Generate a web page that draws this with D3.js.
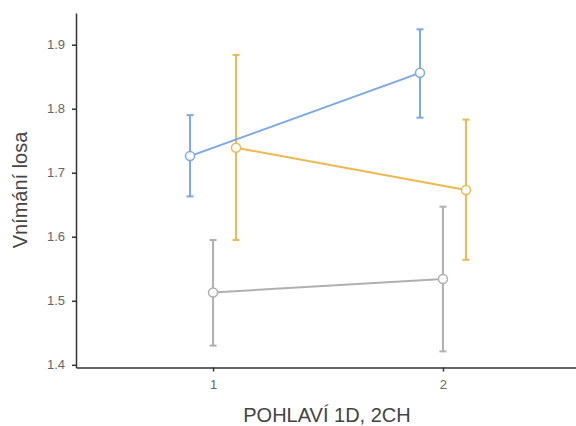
<!DOCTYPE html>
<html>
<head>
<meta charset="utf-8">
<script src="https://cdn.jsdelivr.net/npm/d3@7"></script>
<style>
  body { margin: 0; background: #fff; }
  text { font-family: "Liberation Sans", Arial, sans-serif; }
</style>
</head>
<body>
<svg id="chart" width="576" height="426"></svg>
<script>
// categories on the x axis
const categories = ["1", "2"];
const groups = ["blue", "gray", "orange"];
const groupColors = { blue: "#7ca7e8", gray: "#b0b0b0", orange: "#efb84e" };
const groupOffsets = { blue: -1, gray: 0, orange: 1 };

// means and error bar limits per group, one value per category
const blueMean = [1.726, 1.856];
const blueLow = [1.663, 1.786];
const blueHigh = [1.790, 1.924];
const grayMean = [1.513, 1.534];
const grayLow = [1.430, 1.421];
const grayHigh = [1.595, 1.647];
const orangeMean = [1.739, 1.673];
const orangeLow = [1.595, 1.564];
const orangeHigh = [1.884, 1.783];

const yTicks = [1.4, 1.5, 1.6, 1.7, 1.8, 1.9];

const seriesData = {
    blue: { mean: blueMean, low: blueLow, high: blueHigh },
    gray: { mean: grayMean, low: grayLow, high: grayHigh },
    orange: { mean: orangeMean, low: orangeLow, high: orangeHigh }
};

const svg = d3.select("#chart");
const plotLeft = 76, plotRight = 580, plotTop = 13, plotBottom = 367.5;

const x = d3.scalePoint().domain(categories).range([plotLeft, plotRight]).padding(0.596);
const y = d3.scaleLinear().domain([1.3958, 1.9495]).range([plotBottom, plotTop]);
const dodge = x.step() * 0.1;

// axes
const yAxis = svg.append("g")
    .attr("transform", `translate(${plotLeft},0)`)
    .call(d3.axisLeft(y).tickValues(yTicks).tickFormat(d3.format(".1f")).tickSize(4).tickPadding(7).tickSizeOuter(0));
const xAxis = svg.append("g")
    .attr("transform", `translate(0,${plotBottom})`)
    .call(d3.axisBottom(x).tickSize(4).tickPadding(8).tickSizeOuter(0));

[yAxis, xAxis].forEach(ax => {
    ax.select(".domain").attr("stroke", "#333").attr("stroke-width", 1.5);
    ax.selectAll(".tick line").attr("stroke", "#333").attr("stroke-width", 1.5);
    ax.selectAll(".tick text").attr("fill", "#666").style("font-size", "13px")
        .style("font-family", "Liberation Sans, Arial, sans-serif");
});

// axis titles
svg.append("text")
    .attr("transform", `translate(27,190) rotate(-90)`)
    .attr("text-anchor", "middle")
    .attr("fill", "#444")
    .style("font-size", "20px")
    .text("Vnímání losa");

svg.append("text")
    .attr("x", 327)
    .attr("y", 422)
    .attr("text-anchor", "middle")
    .attr("fill", "#444")
    .style("font-size", "20px")
    .text("POHLAVÍ 1D, 2CH");

const px = (g, i) => x(categories[i]) + groupOffsets[g] * dodge;

// draw order: gray, orange, blue on top
["gray", "orange", "blue"].forEach(g => {
    const s = seriesData[g];
    const color = groupColors[g];
    const layer = svg.append("g");

    const pts = categories.map((c, i) => ({ i: i, mean: s.mean[i], low: s.low[i], high: s.high[i] }));

    // error bars
    pts.forEach(p => {
        const cx = px(g, p.i);
        layer.append("line")
            .attr("x1", cx).attr("x2", cx)
            .attr("y1", y(p.low)).attr("y2", y(p.high))
            .attr("stroke", color).attr("stroke-width", 2);
        [p.low, p.high].forEach(v => {
            layer.append("line")
                .attr("x1", cx - 3.5).attr("x2", cx + 3.5)
                .attr("y1", y(v)).attr("y2", y(v))
                .attr("stroke", color).attr("stroke-width", 2);
        });
    });

    // connecting line
    layer.append("path")
        .datum(pts)
        .attr("fill", "none")
        .attr("stroke", color)
        .attr("stroke-width", 2)
        .attr("d", d3.line().x(p => px(g, p.i)).y(p => y(p.mean)));

    // points
    layer.selectAll("circle")
        .data(pts)
        .enter().append("circle")
        .attr("cx", p => px(g, p.i))
        .attr("cy", p => y(p.mean))
        .attr("r", 4.5)
        .attr("fill", "#fff")
        .attr("stroke", color)
        .attr("stroke-width", 1.5);
});
</script>
</body>
</html>
